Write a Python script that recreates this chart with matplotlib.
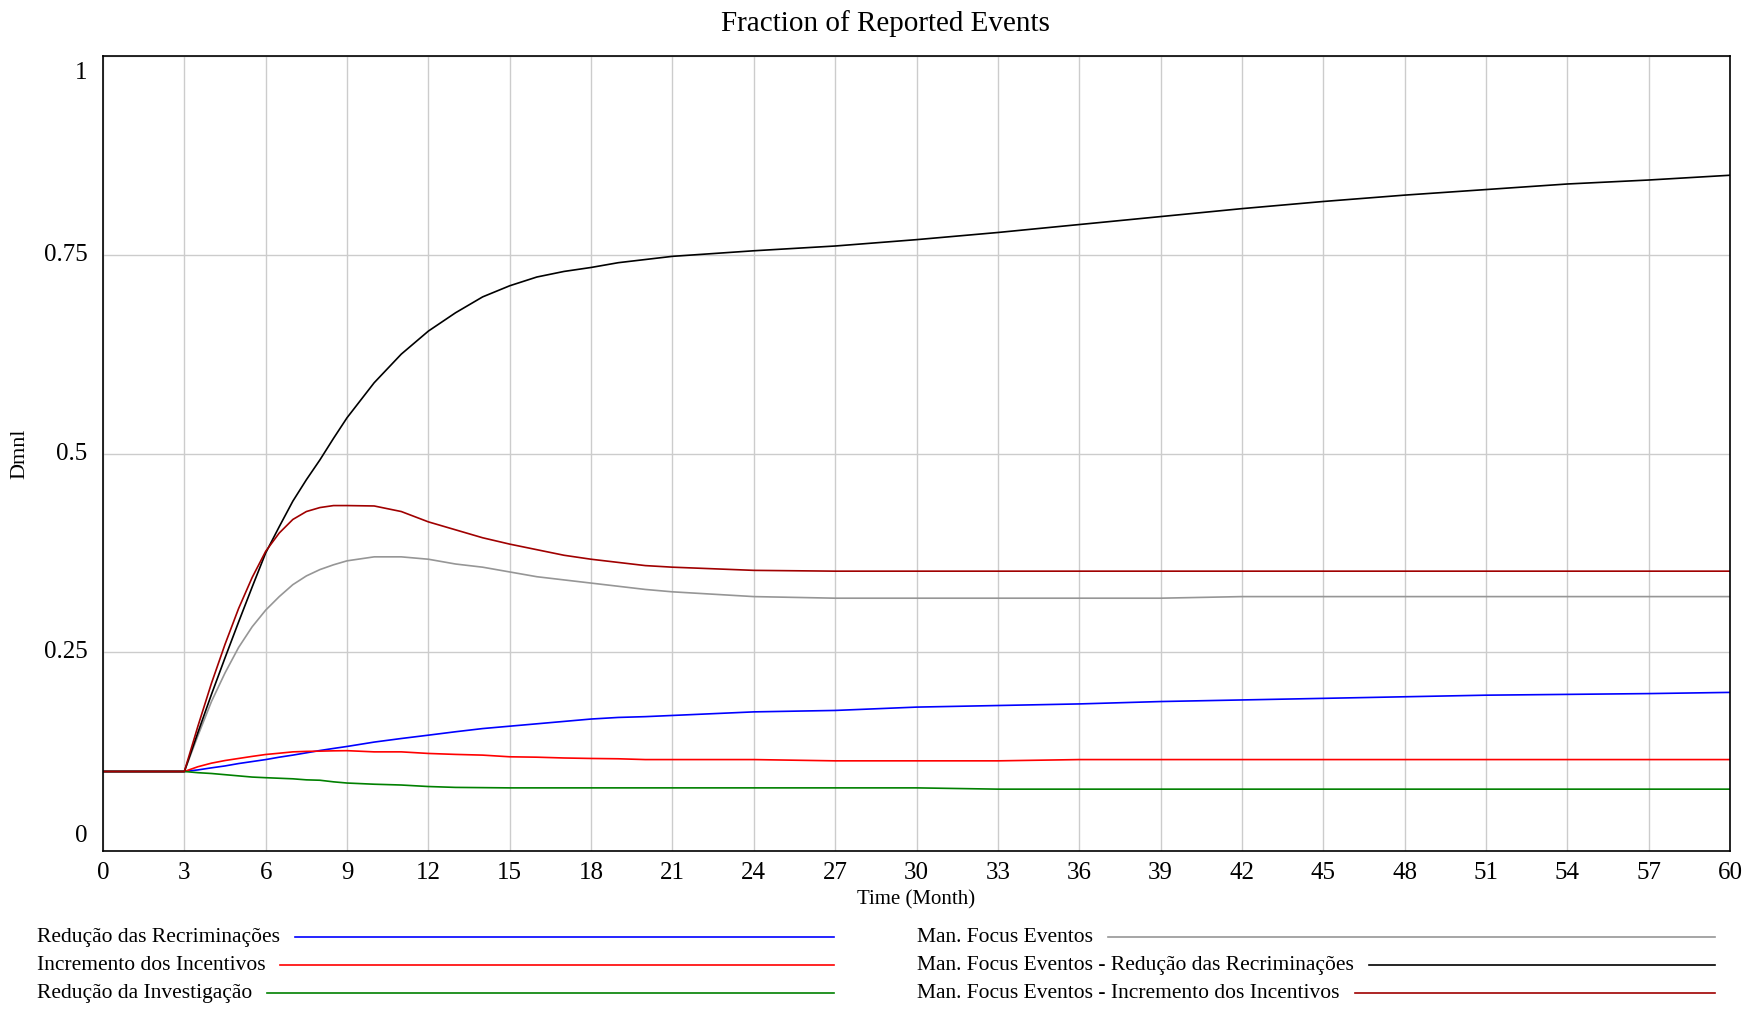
import matplotlib
matplotlib.use("Agg")
import matplotlib.pyplot as plt
from matplotlib.lines import Line2D
from matplotlib.transforms import offset_copy

plt.rcParams["font.family"] = ["Liberation Serif", "DejaVu Serif"]

# time axis (months) and simulated series
months = [0, 3, 3.5, 4, 4.5, 5, 5.5, 6, 6.5, 7, 7.5, 8, 8.5, 9, 10, 11, 12, 13, 14, 15,
          16, 17, 18, 19, 20, 21, 24, 27, 30, 33, 36, 39, 42, 45, 48, 51, 54, 57, 60]

reducao_recriminacoes = [0.1, 0.1, 0.102, 0.1046, 0.107, 0.110, 0.1125, 0.115, 0.118,
                         0.1206, 0.1235, 0.1264, 0.129, 0.1315, 0.137, 0.1415, 0.1457,
                         0.150, 0.154, 0.157, 0.160, 0.163, 0.166, 0.168, 0.169, 0.1705,
                         0.175, 0.1768, 0.181, 0.183, 0.185, 0.188, 0.190, 0.192, 0.194,
                         0.196, 0.197, 0.198, 0.1995]
incremento_incentivos = [0.1, 0.1, 0.106, 0.1105, 0.1138, 0.1164, 0.119, 0.1214, 0.123,
                         0.1247, 0.1253, 0.1256, 0.126, 0.1262, 0.1247, 0.1247, 0.1227,
                         0.1215, 0.1206, 0.1185, 0.118, 0.117, 0.1164, 0.116, 0.115, 0.115,
                         0.115, 0.1134, 0.1134, 0.1134, 0.115, 0.115, 0.115, 0.115, 0.115,
                         0.115, 0.115, 0.115, 0.115]
reducao_investigacao = [0.1, 0.1, 0.0985, 0.0975, 0.096, 0.0945, 0.093, 0.0922, 0.0915,
                        0.0908, 0.0895, 0.089, 0.087, 0.0855, 0.084, 0.083, 0.0811, 0.080,
                        0.0797, 0.0794, 0.0794, 0.0794, 0.0794, 0.0794, 0.0794, 0.0794,
                        0.0794, 0.0794, 0.0794, 0.0778, 0.0778, 0.0778, 0.0778, 0.0778,
                        0.0778, 0.0778, 0.0778, 0.0778, 0.0778]
man_focus = [0.1, 0.1, 0.145, 0.188, 0.224, 0.256, 0.282, 0.303, 0.320, 0.335, 0.346,
             0.354, 0.360, 0.365, 0.370, 0.370, 0.367, 0.361, 0.357, 0.351, 0.345, 0.341,
             0.337, 0.333, 0.329, 0.326, 0.320, 0.318, 0.318, 0.318, 0.318, 0.318, 0.320,
             0.320, 0.320, 0.320, 0.320, 0.320, 0.320]
man_focus_recrim = [0.1, 0.1, 0.149, 0.197, 0.243, 0.288, 0.332, 0.375, 0.408, 0.440,
                    0.467, 0.492, 0.519, 0.545, 0.589, 0.625, 0.654, 0.677, 0.697, 0.711,
                    0.722, 0.729, 0.734, 0.740, 0.744, 0.748, 0.755, 0.761, 0.769, 0.778,
                    0.788, 0.798, 0.808, 0.817, 0.825, 0.832, 0.839, 0.844, 0.850]
man_focus_incent = [0.1, 0.1, 0.157, 0.211, 0.260, 0.305, 0.344, 0.377, 0.400, 0.417,
                    0.427, 0.432, 0.4345, 0.4345, 0.434, 0.427, 0.414, 0.404, 0.394, 0.386,
                    0.379, 0.372, 0.367, 0.363, 0.359, 0.357, 0.353, 0.352, 0.352, 0.352,
                    0.352, 0.352, 0.352, 0.352, 0.352, 0.352, 0.352, 0.352, 0.352]

series = [
    ("Redução das Recriminações", reducao_recriminacoes, "#0000ff"),
    ("Incremento dos Incentivos", incremento_incentivos, "#ff0000"),
    ("Redução da Investigação", reducao_investigacao, "#008000"),
    ("Man. Focus Eventos", man_focus, "#969696"),
    ("Man. Focus Eventos - Redução das Recriminações", man_focus_recrim, "#000000"),
    ("Man. Focus Eventos - Incremento dos Incentivos", man_focus_incent, "#a00000"),
]

x_ticks = list(range(0, 61, 3))
y_ticks = [0, 0.25, 0.5, 0.75, 1]
y_labels = ["0", "0.25", "0.5", "0.75", "1"]

fig = plt.figure(figsize=(17.5, 10.16), dpi=100)
ax = fig.add_axes([103 / 1750, 1 - 851 / 1016, (1730 - 103) / 1750, (851 - 56) / 1016])

for name, values, color in series:
    ax.plot(months, values, color=color, linewidth=1.2)

ax.set_xlim(0, 60)
ax.set_ylim(0, 1)
ax.set_xticks(x_ticks)
ax.set_xticklabels([str(t) for t in x_ticks], fontsize=18)
ax.set_yticks(y_ticks)
ax.set_yticklabels([])
ax.tick_params(length=0, pad=8)
ax.grid(True, color="#cccccc", linewidth=1)
ax.set_axisbelow(True)
for side in ax.spines.values():
    side.set_color("black")
    side.set_linewidth(1.2)

# y labels sit inside the range at the ends, as in the source tool
ytrans = ax.get_yaxis_transform()
for value, label in zip(y_ticks, y_labels):
    shift, va = 0, "center"
    if value == 1:
        shift, va = -4, "top"
    elif value == 0:
        shift, va = 3, "bottom"
    tr = offset_copy(ytrans, fig=fig, x=-11, y=shift, units="points")
    ax.text(0, value, label, transform=tr, ha="right", va=va, fontsize=18)

fig.text(0.5057, 0.977, "Fraction of Reported Events",
         ha="center", va="center", fontsize=21)
fig.text(0.5 * (103 + 1730) / 1750, 0.1146, "Time (Month)", ha="center", va="center", fontsize=15)
fig.text(20 / 1750, 1 - 454 / 1016, "Dmnl", rotation=90, ha="center", va="center", fontsize=16)

# legend drawn by hand: label followed by a long sample line
rows_y = [0.0773, 0.0498, 0.0223]
columns = [(0.021, 0.4764), (0.5242, 0.9802)]
fig.canvas.draw()
renderer = fig.canvas.get_renderer()
for index, (name, values, color) in enumerate(series):
    col_start, col_end = columns[index // 3]
    y = rows_y[index % 3]
    label = fig.text(col_start, y, name, ha="left", va="center", fontsize=15.5)
    box = label.get_window_extent(renderer).transformed(fig.transFigure.inverted())
    fig.add_artist(Line2D([box.x1 + 15 / 1750, col_end], [y, y], color=color,
                          linewidth=1.2, transform=fig.transFigure))

fig.savefig("out.png", dpi=100)
